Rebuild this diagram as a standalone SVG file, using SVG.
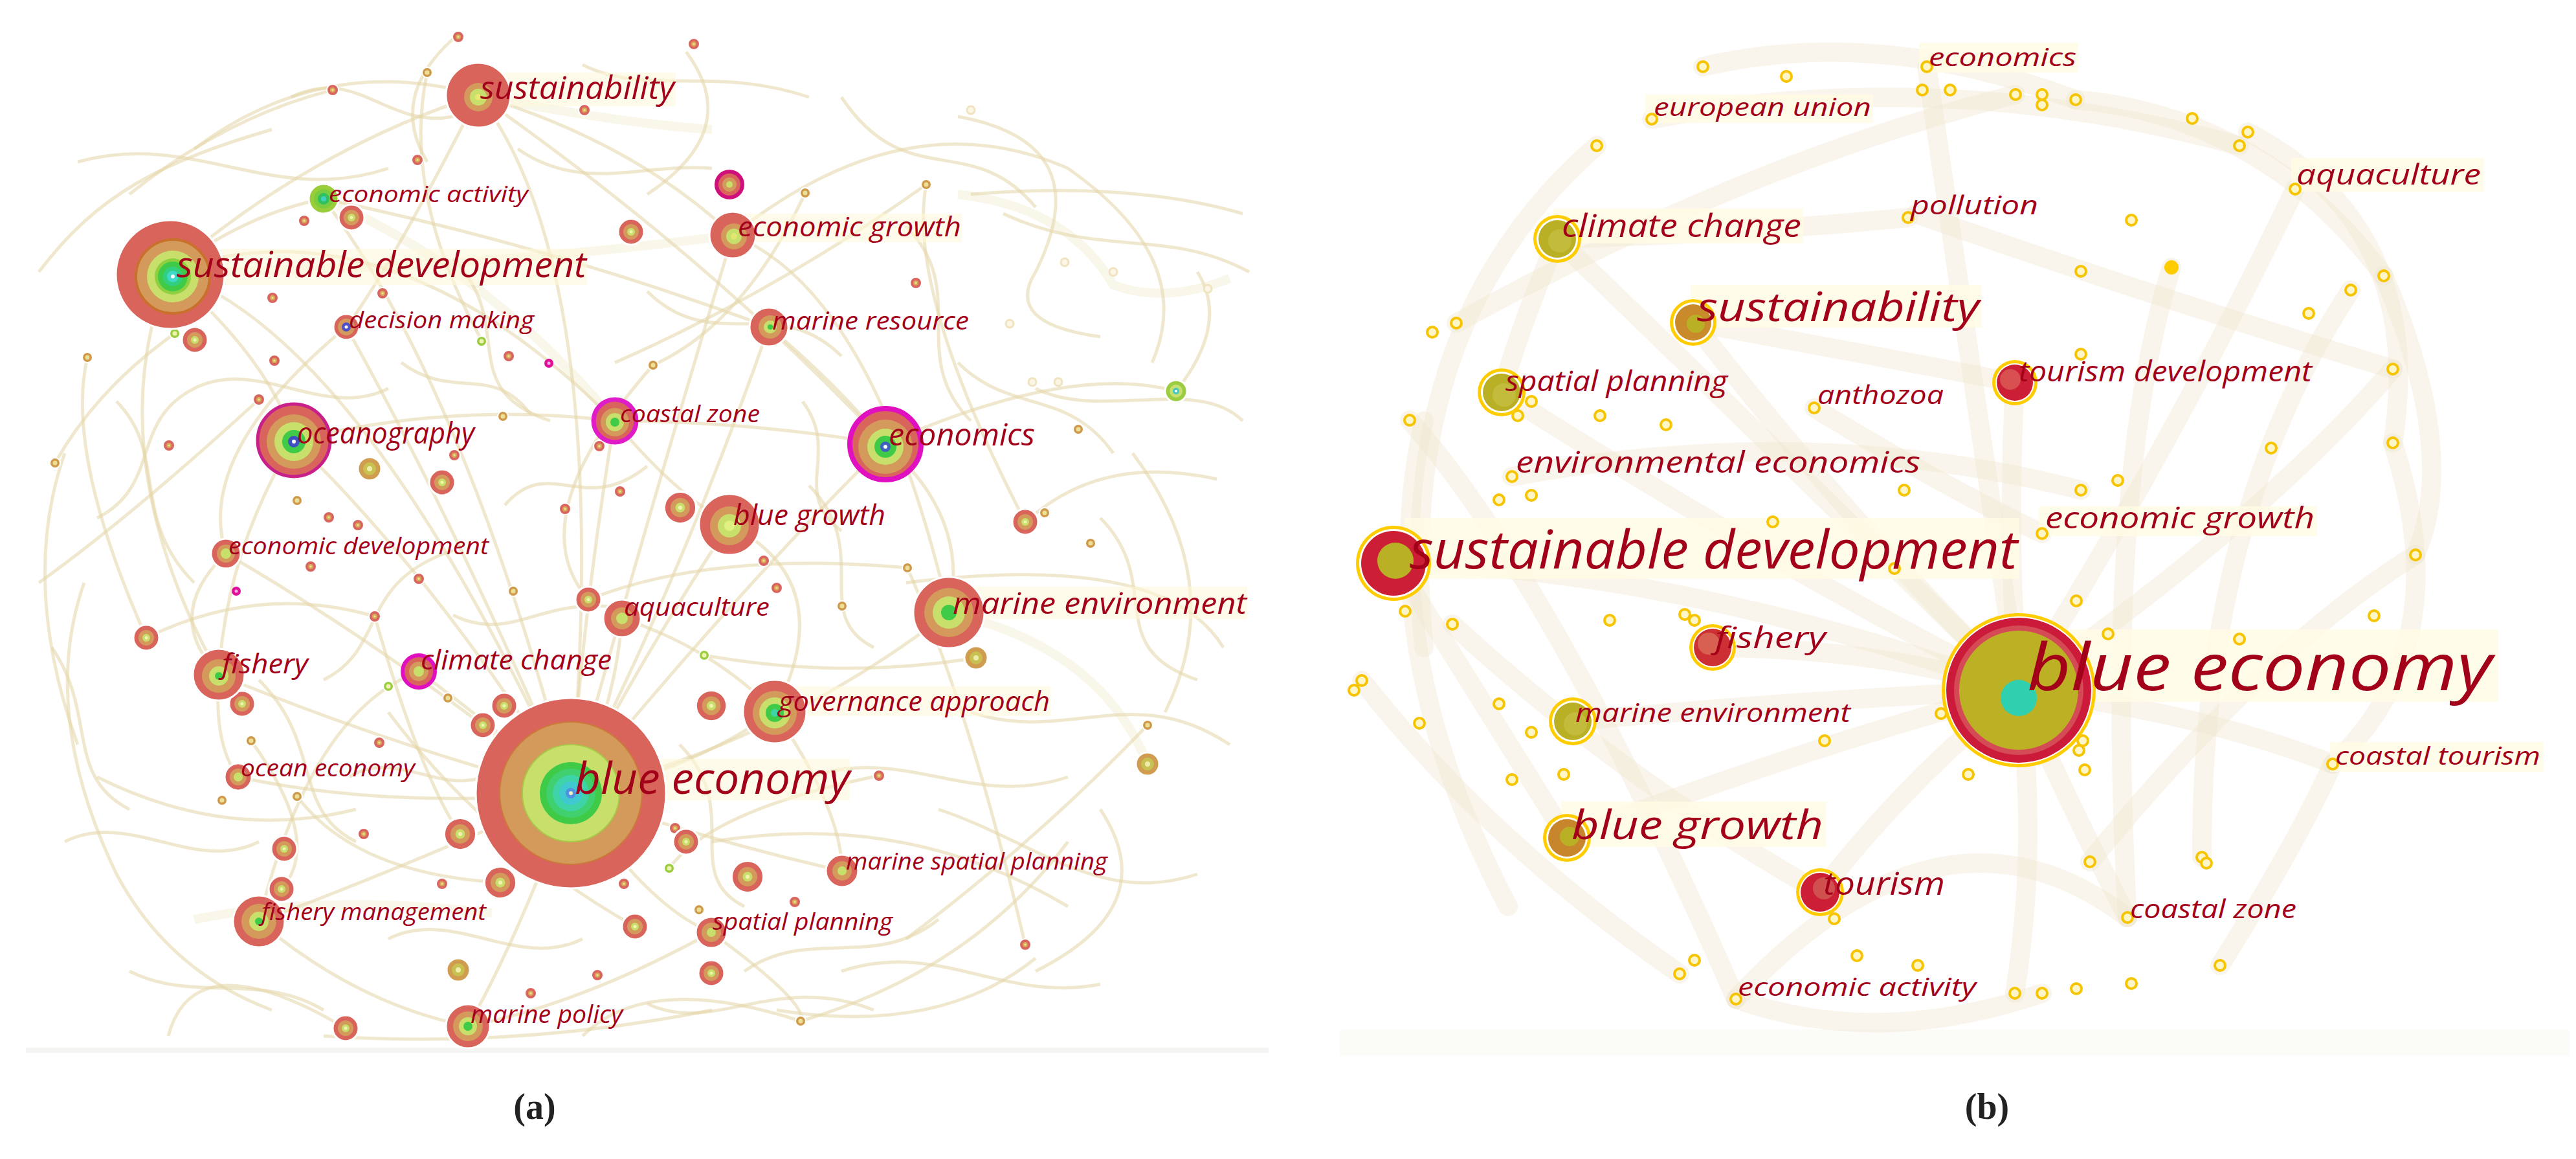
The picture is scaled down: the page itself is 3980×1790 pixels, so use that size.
<svg xmlns="http://www.w3.org/2000/svg" xmlns:xlink="http://www.w3.org/1999/xlink" width="3980" height="1790" viewBox="0 0 3980 1790">
<style>
.ea{fill:none;stroke:#e4d6a6;stroke-width:5;opacity:.55}
.ea2{fill:none;stroke:#ece0b8;stroke-width:14;opacity:.3}
.eb{fill:none;stroke:#efe6cc;stroke-width:30;opacity:.38;stroke-linecap:round}
.lb{fill:#fff8d8;opacity:.55}
.lbb{fill:#fffbe4;opacity:.8}
.t{font-family:"Open Sans","DejaVu Sans",sans-serif;font-style:italic;fill:#a3001a}
.cap{font-family:"Liberation Serif",serif;font-weight:bold;font-size:56px;fill:#222}
.r1{fill:#d9645c;stroke:#fff;stroke-width:3}
.r2{fill:#d39a5c}
.r3{fill:#c9df6c}
.r4{fill:#3fcb48}
.r5{fill:#3fd4a8}
.r6{fill:#49c6e0}
.yr{fill:#ffcc00}
.wh{fill:#fff}
.ol{fill:#b9b025}
.cr{fill:#cc1f35}
</style>
<defs>
<g id="ar"><circle r="9" fill="#d9665e" stroke="#fff" stroke-width="2"/><circle r="4" fill="#d7a85a"/><circle r="1.8" fill="#eee08a"/></g>
<g id="at"><circle r="8" fill="#cf9a4c" stroke="#fff" stroke-width="2"/><circle r="3.5" fill="#ecdf96"/></g>
<g id="ag"><circle r="8" fill="#9ccc40" stroke="#fff" stroke-width="2"/><circle r="3.5" fill="#eef4b0"/></g>
<g id="am"><circle r="7" fill="#e0109a"/><circle r="2.5" fill="#f4b0dc"/></g>
<g id="arm"><circle r="20" fill="#d9645c" stroke="#fff" stroke-width="3"/><circle r="12" fill="#d39a5c"/><circle r="6" fill="#c9df6c"/><circle r="2.5" fill="#f2f2b0"/></g>
<g id="atm"><circle r="18" fill="#cf9c50" stroke="#fff" stroke-width="3"/><circle r="10" fill="#c8c050"/><circle r="4" fill="#eeeeaa"/></g>
<g id="by"><circle r="8" fill="#fff6c8" stroke="#f7c400" stroke-width="4"/></g>
<g id="bd"><circle r="6" fill="#fbf6e6" stroke="#efe3c0" stroke-width="3"/></g>
</defs>
<rect width="3980" height="1790" fill="#fff"/>
<rect x="40" y="1618" width="1920" height="8" fill="#f4f4f2"/>
<rect x="2070" y="1590" width="1900" height="40" fill="#fbfbf8"/>

<g id="connectors">
<g id="edges-a">
<path class="ea2" d="M261,419 Q700,420 1132,363"/>
<path class="ea2" d="M500,307 Q760,420 949,650"/>
<path class="ea2" d="M1466,946 Q1700,1000 1773,1180"/>
<path class="ea2" d="M739,147 Q950,190 1100,200"/>
<path class="ea2" d="M300,1420 Q500,1380 760,1410"/>
<path class="ea2" d="M1480,300 Q1650,320 1720,440 Q1800,470 1900,430"/>
<path class="ea" d="M261,419 Q480,230 739,147"/>
<path class="ea" d="M261,419 Q560,520 882,1225"/>
<path class="ea" d="M261,419 Q420,560 454,680"/>
<path class="ea" d="M261,419 Q380,330 500,307"/>
<path class="ea" d="M261,419 Q150,700 338,1042"/>
<path class="ea" d="M261,419 Q600,300 949,650"/>
<path class="ea" d="M739,147 Q950,420 882,1225"/>
<path class="ea" d="M739,147 Q980,220 1132,363"/>
<path class="ea" d="M739,147 Q600,420 535,505"/>
<path class="ea" d="M739,147 Q1100,400 1368,686"/>
<path class="ea" d="M739,147 Q500,80 300,230"/>
<path class="ea" d="M500,307 Q720,600 882,1225"/>
<path class="ea" d="M500,307 Q850,380 1188,505"/>
<path class="ea" d="M1132,363 Q1000,800 882,1225"/>
<path class="ea" d="M1132,363 Q1350,450 1466,946"/>
<path class="ea" d="M1132,363 Q1400,150 1650,260"/>
<path class="ea" d="M1188,505 Q1050,900 882,1225"/>
<path class="ea" d="M1188,505 Q1300,600 1368,686"/>
<path class="ea" d="M535,505 Q700,800 882,1225"/>
<path class="ea" d="M535,505 Q300,700 349,855"/>
<path class="ea" d="M454,680 Q680,900 882,1225"/>
<path class="ea" d="M454,680 Q700,620 949,650"/>
<path class="ea" d="M454,680 Q350,850 338,1042"/>
<path class="ea" d="M949,650 Q900,950 882,1225"/>
<path class="ea" d="M949,650 Q1150,650 1368,686"/>
<path class="ea" d="M949,650 Q1040,760 1127,810"/>
<path class="ea" d="M1368,686 Q1150,900 882,1225"/>
<path class="ea" d="M1368,686 Q1500,800 1466,946"/>
<path class="ea" d="M1368,686 Q1650,560 1817,604"/>
<path class="ea" d="M1127,810 Q1000,1000 882,1225"/>
<path class="ea" d="M1127,810 Q1300,900 1197,1099"/>
<path class="ea" d="M349,855 Q600,1000 882,1225"/>
<path class="ea" d="M349,855 Q250,950 338,1042"/>
<path class="ea" d="M961,955 Q950,1100 882,1225"/>
<path class="ea" d="M961,955 Q1100,1000 1197,1099"/>
<path class="ea" d="M1466,946 Q1200,1150 882,1225"/>
<path class="ea" d="M338,1042 Q600,1150 882,1225"/>
<path class="ea" d="M338,1042 Q330,1150 368,1200"/>
<path class="ea" d="M647,1037 Q760,1120 882,1225"/>
<path class="ea" d="M647,1037 Q480,1100 400,1423"/>
<path class="ea" d="M1197,1099 Q1050,1200 882,1225"/>
<path class="ea" d="M1197,1099 Q1300,1250 1301,1345"/>
<path class="ea" d="M368,1200 Q600,1250 882,1225"/>
<path class="ea" d="M882,1225 Q1100,1300 1301,1345"/>
<path class="ea" d="M882,1225 Q600,1350 400,1423"/>
<path class="ea" d="M882,1225 Q1000,1400 1099,1440"/>
<path class="ea" d="M882,1225 Q800,1450 723,1585"/>
<path class="ea" d="M400,1423 Q550,1550 723,1585"/>
<path class="ea" d="M1099,1440 Q900,1550 723,1585"/>
<path class="ea" d="M1099,1440 Q1250,1550 1237,1577"/>
<path class="ea" d="M100,700 Q30,900 120,1150"/>
<path class="ea" d="M130,900 Q60,1100 180,1350 Q260,1500 420,1560"/>
<path class="ea" d="M85,715 Q150,600 270,515"/>
<path class="ea" d="M135,552 Q100,700 226,985"/>
<path class="ea" d="M500,1600 Q800,1620 1100,1560"/>
<path class="ea" d="M1237,1577 Q1500,1500 1650,1300"/>
<path class="ea" d="M1400,900 Q1800,850 1890,1000"/>
<path class="ea" d="M1500,300 Q1750,280 1920,330"/>
<path class="ea" d="M1480,180 Q1700,220 1600,420 Q1550,500 1700,520"/>
<path class="ea" d="M1650,260 Q1850,400 1780,560"/>
<path class="ea" d="M1750,700 Q1900,900 1800,1100"/>
<path class="ea" d="M1585,806 Q1700,700 1880,740"/>
<path class="ea" d="M1060,80 Q1150,200 1000,300"/>
<path class="ea" d="M700,60 Q600,150 660,250"/>
<path class="ea" d="M950,560 Q1200,450 1431,285"/>
<path class="ea" d="M1431,285 Q1400,450 1584,806"/>
<path class="ea" d="M1244,298 Q1150,500 1009,564"/>
<path class="ea" d="M1009,564 Q800,800 909,926"/>
<path class="ea" d="M909,926 Q1100,850 1402,877"/>
<path class="ea" d="M1402,877 Q1500,1100 1584,1459"/>
<path class="ea" d="M226,985 Q400,900 579,952"/>
<path class="ea" d="M579,952 Q650,1200 711,1288"/>
<path class="ea" d="M388,1144 Q500,1300 435,1373"/>
<path class="ea" d="M459,1230 Q550,1350 773,1363"/>
<path class="ea" d="M1034,1341 Q1100,1250 1358,1198"/>
<path class="ea" d="M1773,1120 Q1600,1300 1400,1450"/>
<path class="ea" d="M260,1600 Q300,1450 534,1588"/>
<path class="ea" d="M900,1600 Q1000,1500 1237,1577"/>
<path class="ea" d="M600,1100 Q750,1300 981,1431"/>
<path class="ea" d="M1088,1012 Q1300,1050 1508,1016"/>
<path class="ea" d="M1600,1500 Q1800,1400 1700,1250"/>
<path class="ea" d="M200,300 Q350,180 514,139"/>
<path class="ea" d="M660,112 Q620,300 745,527"/>
<path class="ea" d="M60,900 Q200,800 400,617"/>
<path class="ea" d="M1817,604 Q1900,500 1850,420"/>
<path class="ea" d="M1100,1300 Q1400,1250 1650,1400"/>
<path class="ea" d="M150,1200 Q350,1300 550,1250"/>
<path class="ea" d="M1200,1560 Q1450,1600 1600,1480"/>
<path class="ea" d="M60,420 C150,300 250,250 420,200"/>
<path class="ea" d="M120,250 C300,200 420,320 600,260"/>
<path class="ea" d="M800,230 C900,300 1000,250 1100,260"/>
<path class="ea" d="M1300,150 C1400,300 1500,200 1600,320"/>
<path class="ea" d="M1550,330 C1700,400 1800,350 1930,420"/>
<path class="ea" d="M1600,600 C1700,650 1850,580 1920,650"/>
<path class="ea" d="M1500,1100 C1650,1150 1750,1050 1900,1150"/>
<path class="ea" d="M1450,1250 C1600,1300 1700,1400 1850,1350"/>
<path class="ea" d="M1300,1500 C1450,1450 1550,1550 1700,1520"/>
<path class="ea" d="M100,1300 C200,1250 300,1350 400,1300"/>
<path class="ea" d="M80,1000 C150,1100 100,1200 200,1250"/>
<path class="ea" d="M200,1500 C300,1550 400,1500 500,1560"/>
<path class="ea" d="M600,1450 C700,1400 800,1500 900,1450"/>
<path class="ea" d="M300,600 C400,550 500,650 600,600"/>
<path class="ea" d="M700,400 C800,500 700,600 850,650"/>
<path class="ea" d="M1000,450 C1100,550 1200,450 1300,550"/>
<path class="ea" d="M1250,750 C1350,850 1250,950 1350,1000"/>
<path class="ea" d="M1050,1150 C1150,1250 1050,1350 1150,1400"/>
<path class="ea" d="M500,1050 C600,1000 550,900 700,850"/>
<path class="ea" d="M150,800 C250,750 200,650 300,600"/>
<path class="ea" d="M400,1050 C500,1150 450,1250 550,1300"/>
<path class="ea" d="M1400,350 C1500,450 1400,550 1500,650"/>
<path class="ea" d="M1700,800 C1800,900 1700,1000 1850,1050"/>
<path class="ea" d="M1000,1550 C1100,1600 1200,1500 1350,1560"/>
<path class="ea" d="M450,150 C550,100 600,200 700,180"/>
<path class="ea" d="M900,100 C1000,150 1100,100 1250,150"/>
<path class="ea" d="M1250,1200 C1400,1150 1500,1250 1650,1200"/>
<path class="ea" d="M700,950 C800,1000 850,900 1000,950"/>
<path class="ea" d="M180,620 C260,700 200,800 300,900"/>
<path class="ea" d="M780,780 C850,700 900,800 1000,720"/>
<path class="ea" d="M620,560 C700,620 760,560 820,640"/>
<path class="ea" d="M1480,560 C1560,640 1650,600 1720,700"/>
<path class="ea" d="M1240,620 C1300,700 1220,760 1300,820"/>
<path class="ea" d="M540,1200 C620,1150 700,1250 780,1180"/>
<path class="ea" d="M1150,1500 C1250,1430 1350,1500 1450,1420"/>
</g>
<g id="edges-b">
<path class="eb" d="M2467,225 Q2150,500 2200,1000"/>
<path class="eb" d="M2200,650 Q2120,1000 2330,1400"/>
<path class="eb" d="M2155,868 Q2600,880 3119,1066"/>
<path class="eb" d="M2616,498 Q2850,800 3119,1066"/>
<path class="eb" d="M2406,369 Q2750,700 3119,1066"/>
<path class="eb" d="M2320,606 Q2700,850 3119,1066"/>
<path class="eb" d="M3113,591 Q3100,850 3119,1066"/>
<path class="eb" d="M2646,1000 Q2900,1000 3119,1066"/>
<path class="eb" d="M2430,1114 Q2800,1080 3119,1066"/>
<path class="eb" d="M2421,1294 Q2800,1150 3119,1066"/>
<path class="eb" d="M2812,1378 Q2950,1200 3119,1066"/>
<path class="eb" d="M3287,1417 Q3200,1250 3119,1066"/>
<path class="eb" d="M3604,1180 Q3400,1100 3119,1066"/>
<path class="eb" d="M3119,1066 Q3150,1300 3113,1534"/>
<path class="eb" d="M3119,1066 Q3350,700 3546,292"/>
<path class="eb" d="M3119,1066 Q3500,800 3697,570"/>
<path class="eb" d="M2977,103 Q3050,600 3119,1066"/>
<path class="eb" d="M2552,184 Q3000,100 3460,225"/>
<path class="eb" d="M2631,103 Q2900,40 3207,154"/>
<path class="eb" d="M3207,154 Q3500,180 3683,426"/>
<path class="eb" d="M3473,204 Q3750,350 3697,684"/>
<path class="eb" d="M3683,426 Q3800,700 3732,857"/>
<path class="eb" d="M2178,649 Q2400,900 2682,1543"/>
<path class="eb" d="M2682,1543 Q2900,1620 3155,1534"/>
<path class="eb" d="M2682,1543 Q3000,1200 3287,1417"/>
<path class="eb" d="M3430,1491 Q3550,1300 3604,1180"/>
<path class="eb" d="M2336,736 Q2800,650 3215,757"/>
<path class="eb" d="M2413,369 Q2700,360 2948,336"/>
<path class="eb" d="M2616,498 Q2900,550 3113,591"/>
<path class="eb" d="M3697,684 Q3800,1000 3604,1180"/>
<path class="eb" d="M2104,1051 Q2300,1300 2595,1504"/>
<path class="eb" d="M2244,964 Q2500,1200 2812,1378"/>
<path class="eb" d="M2803,630 Q3000,750 3155,824"/>
<path class="eb" d="M3355,413 Q3250,750 3287,1417"/>
<path class="eb" d="M3632,448 Q3400,800 3402,1324"/>
<path class="eb" d="M2960,330 Q3300,450 3697,570"/>
<path class="eb" d="M2406,369 Q2350,500 2320,606"/>
<path class="eb" d="M2155,868 Q2300,1100 2421,1294"/>
<path class="eb" d="M2250,499 Q2700,250 3114,146"/>
<path class="eb" d="M3229,1331 Q3500,1000 3732,857"/>
</g>
</g>

<g id="label-bg">
<rect class="lb" x="742" y="112" width="302" height="52"/>
<rect class="lb" x="273" y="384" width="634" height="56"/>
<rect class="lb" x="1140" y="330" width="346" height="44"/>
<rect class="lb" x="1472" y="906" width="455" height="50"/>
<rect class="lb" x="888" y="1172" width="425" height="64"/>
<rect class="lb" x="1203" y="1060" width="420" height="46"/>
<rect class="lbb" x="2542" y="146" width="352" height="44"/>
<rect class="lbb" x="2965" y="66" width="246" height="46"/>
<rect class="lbb" x="3540" y="244" width="298" height="52"/>
<rect class="lbb" x="2400" y="322" width="386" height="54"/>
<rect class="lbb" x="2612" y="440" width="450" height="66"/>
<rect class="lbb" x="2170" y="800" width="950" height="94"/>
<rect class="lbb" x="3100" y="972" width="760" height="112"/>
<rect class="lbb" x="2412" y="1238" width="410" height="70"/>
<rect class="lbb" x="3600" y="1146" width="330" height="46"/>
<rect class="lbb" x="3150" y="782" width="430" height="46"/>
</g>

<g id="nodes-a-small">
<use id="a1" href="#ar" x="708" y="57"/>
<use id="a2" href="#ar" x="1072" y="68"/>
<use id="a3" href="#at" x="660" y="112"/>
<use id="a4" href="#ar" x="514" y="139"/>
<use id="a5" href="#ar" x="903" y="170"/>
<use id="a6" href="#ar" x="645" y="247"/>
<use id="a7" href="#at" x="1244" y="298"/>
<use id="a8" href="#at" x="1431" y="285"/>
<use id="a9" href="#arm" x="543" y="336"/>
<use id="a10" href="#ar" x="470" y="341"/>
<use id="a11" href="#arm" x="975" y="358"/>
<use id="a12" href="#ar" x="1415" y="437"/>
<use id="a13" href="#ar" x="421" y="460"/>
<use id="a14" href="#ar" x="591" y="453"/>
<use id="a15" href="#arm" x="301" y="525"/>
<use id="a16" href="#ag" x="270" y="515"/>
<use id="a17" href="#at" x="135" y="552"/>
<use id="a18" href="#ar" x="424" y="557"/>
<use id="a19" href="#ag" x="744" y="527"/>
<use id="a20" href="#ar" x="786" y="550"/>
<use id="a21" href="#am" x="848" y="561"/>
<use id="a22" href="#at" x="1009" y="564"/>
<use id="a24" href="#ar" x="400" y="617"/>
<use id="a25" href="#at" x="777" y="643"/>
<use id="a26" href="#ar" x="261" y="688"/>
<use id="a27" href="#at" x="85" y="715"/>
<use id="a28" href="#ar" x="702" y="703"/>
<use id="a29" href="#atm" x="571" y="724"/>
<use id="a30" href="#arm" x="683" y="745"/>
<use id="a31" href="#ar" x="926" y="689"/>
<use id="a32" href="#at" x="1666" y="663"/>
<use id="a33" href="#ar" x="958" y="759"/>
<use id="a34" href="#at" x="459" y="773"/>
<use id="a35" href="#ar" x="873" y="786"/>
<use id="a36" href="#arm" transform="translate(1051,784) scale(1.25)"/>
<use id="a37" href="#arm" x="1584" y="806"/>
<use id="a38" href="#at" x="1614" y="792"/>
<use id="a39" href="#ar" x="508" y="799"/>
<use id="a40" href="#ar" x="553" y="811"/>
<use id="a41" href="#ar" x="1180" y="866"/>
<use id="a42" href="#at" x="1685" y="839"/>
<use id="a43" href="#at" x="1402" y="877"/>
<use id="a44" href="#ar" x="480" y="875"/>
<use id="a45" href="#am" x="365" y="913"/>
<use id="a46" href="#ar" x="647" y="894"/>
<use id="a47" href="#at" x="793" y="913"/>
<use id="a48" href="#arm" x="909" y="926"/>
<use id="a49" href="#ar" x="1200" y="908"/>
<use id="a50" href="#ar" x="579" y="952"/>
<use id="a51" href="#arm" x="226" y="985"/>
<use id="a52" href="#at" x="1301" y="936"/>
<use id="a53" href="#ag" x="1088" y="1012"/>
<use id="a54" href="#atm" x="1508" y="1016"/>
<use id="a55" href="#arm" x="374" y="1087"/>
<use id="a56" href="#ag" x="600" y="1060"/>
<use id="a57" href="#at" x="692" y="1078"/>
<use id="a58" href="#arm" x="779" y="1090"/>
<use id="a59" href="#arm" x="746" y="1120"/>
<use id="a60" href="#arm" transform="translate(1099,1090) scale(1.2)"/>
<use id="a61" href="#at" x="388" y="1144"/>
<use id="a62" href="#ar" x="586" y="1147"/>
<use id="a63" href="#at" x="1773" y="1120"/>
<use id="a64" href="#atm" x="1773" y="1180"/>
<use id="a65" href="#ar" x="1358" y="1198"/>
<use id="a66" href="#at" x="343" y="1236"/>
<use id="a67" href="#at" x="459" y="1230"/>
<use id="a68" href="#ar" x="562" y="1288"/>
<use id="a69" href="#arm" transform="translate(711,1288) scale(1.25)"/>
<use id="a70" href="#ar" x="1043" y="1279"/>
<use id="a71" href="#arm" x="1060" y="1300"/>
<use id="a72" href="#arm" x="439" y="1311"/>
<use id="a73" href="#arm" x="435" y="1373"/>
<use id="a74" href="#ar" x="683" y="1365"/>
<use id="a75" href="#arm" transform="translate(773,1363) scale(1.25)"/>
<use id="a76" href="#ar" x="964" y="1365"/>
<use id="a77" href="#ag" x="1034" y="1341"/>
<use id="a78" href="#arm" transform="translate(1155,1354) scale(1.25)"/>
<use id="a79" href="#ar" x="1228" y="1393"/>
<use id="a80" href="#at" x="1080" y="1405"/>
<use id="a81" href="#arm" x="981" y="1431"/>
<use id="a82" href="#ar" x="1584" y="1459"/>
<use id="a83" href="#atm" x="708" y="1498"/>
<use id="a84" href="#arm" x="1099" y="1503"/>
<use id="a85" href="#ar" x="923" y="1506"/>
<use id="a86" href="#ar" x="820" y="1534"/>
<use id="a87" href="#arm" x="534" y="1588"/>
<use id="a88" href="#at" x="1237" y="1577"/>
<g id="a89"><circle cx="1817" cy="604" r="17" fill="#9ccc40" stroke="#fff" stroke-width="3"/><circle cx="1817" cy="604" r="10" fill="#c8e070"/><circle cx="1817" cy="604" r="5" fill="#40c8c0"/><circle cx="1817" cy="604" r="2" fill="#fff"/></g>
<g id="a90"><circle cx="1127" cy="285" r="20" fill="#d9645c" stroke="#d0107a" stroke-width="6"/><circle cx="1127" cy="285" r="11" fill="#d39a5c"/><circle cx="1127" cy="285" r="5" fill="#c9df6c"/></g>
<circle id="a92" cx="759" cy="1192" r="6" fill="#f4e4e0" stroke="#e0b0a8" stroke-width="2"/>
<use id="a93" href="#bd" x="1500" y="170"/>
<use id="a94" href="#bd" x="1645" y="405"/>
<use id="a95" href="#bd" x="1720" y="420"/>
<use id="a96" href="#bd" x="1866" y="446"/>
<use id="a97" href="#bd" x="1560" y="500"/>
<use id="a98" href="#bd" x="1595" y="590"/>
<use id="a99" href="#bd" x="1635" y="590"/>
</g>

<g id="node-a-sustainability">
<circle class="r1" cx="739" cy="147" r="50"/><circle class="r2" cx="739" cy="150" r="22"/><circle class="r3" cx="739" cy="150" r="13"/><circle cx="739" cy="150" r="5" fill="#e8e870"/>
<text class="t" x="742" y="153" font-size="50" textLength="300" lengthAdjust="spacingAndGlyphs">sustainability</text>
</g>
<g id="node-a-economic-activity">
<circle cx="500" cy="307" r="23" fill="#9acd3a" stroke="#fff" stroke-width="3"/><circle cx="500" cy="307" r="15" fill="#7ccc40"/><circle cx="500" cy="307" r="9" fill="#30c060"/><circle cx="500" cy="307" r="4" fill="#40d0c0"/>
<text class="t" x="508" y="312" font-size="35" textLength="308" lengthAdjust="spacingAndGlyphs">economic activity</text>
</g>
<g id="node-a-economic-growth">
<circle class="r1" cx="1132" cy="363" r="36"/><circle class="r2" cx="1134" cy="365" r="20"/><circle class="r3" cx="1134" cy="365" r="12"/><circle cx="1134" cy="365" r="5" fill="#e0e870"/>
<text class="t" x="1140" y="365" font-size="42" textLength="345" lengthAdjust="spacingAndGlyphs">economic growth</text>
</g>
<g id="node-a-sustainable-development">
<circle class="r1" cx="263" cy="424" r="84"/><circle class="r2" cx="267" cy="427" r="57" stroke="#c9702c" stroke-width="4"/><circle class="r3" cx="267" cy="427" r="40"/><circle cx="267" cy="427" r="28" fill="#8fd040"/><circle class="r4" cx="267" cy="427" r="23"/><circle cx="267" cy="427" r="15" fill="#30d080"/><circle cx="267" cy="427" r="9" fill="#40d8c8"/><circle cx="267" cy="427" r="3" fill="#fff"/>
<text class="t" x="273" y="428" font-size="55" textLength="633" lengthAdjust="spacingAndGlyphs">sustainable development</text>
</g>
<g id="node-a-decision-making">
<circle class="r1" cx="535" cy="505" r="20"/><circle class="r2" cx="535" cy="505" r="13"/><circle cx="535" cy="505" r="7" fill="#5050c8"/><circle cx="535" cy="505" r="2.5" fill="#fff"/>
<text class="t" x="539" y="507" font-size="36" textLength="286" lengthAdjust="spacingAndGlyphs">decision making</text>
</g>
<g id="node-a-marine-resource">
<circle class="r1" cx="1188" cy="505" r="30"/><circle class="r2" cx="1190" cy="505" r="18"/><circle class="r3" cx="1190" cy="505" r="10"/><circle class="r4" cx="1190" cy="505" r="4"/>
<text class="t" x="1193" y="509" font-size="39" textLength="304" lengthAdjust="spacingAndGlyphs">marine resource</text>
</g>
<g id="node-a-oceanography">
<circle cx="454" cy="680" r="56" fill="#d9645c" stroke="#c8208a" stroke-width="5"/><circle class="r2" cx="454" cy="682" r="42"/><circle class="r3" cx="454" cy="682" r="30"/><circle class="r4" cx="454" cy="682" r="18"/><circle cx="454" cy="682" r="9" fill="#4050c0"/><circle cx="454" cy="682" r="3" fill="#fff"/>
<text class="t" x="459" y="685" font-size="46" textLength="274" lengthAdjust="spacingAndGlyphs">oceanography</text>
</g>
<g id="node-a-coastal-zone">
<circle cx="950" cy="650" r="33" fill="#d9645c" stroke="#e01cc8" stroke-width="7"/><circle class="r2" cx="950" cy="652" r="22"/><circle class="r3" cx="950" cy="652" r="14"/><circle class="r4" cx="950" cy="652" r="7"/>
<text class="t" x="958" y="652" font-size="37" textLength="216" lengthAdjust="spacingAndGlyphs">coastal zone</text>
</g>
<g id="node-a-economics">
<circle cx="1368" cy="686" r="55" fill="#d9645c" stroke="#e010c0" stroke-width="8"/><circle class="r2" cx="1368" cy="690" r="42"/><circle class="r3" cx="1368" cy="690" r="28"/><circle class="r4" cx="1368" cy="690" r="17"/><circle cx="1368" cy="690" r="8" fill="#4060c0"/><circle cx="1368" cy="690" r="3" fill="#fff"/>
<text class="t" x="1373" y="688" font-size="48" textLength="226" lengthAdjust="spacingAndGlyphs">economics</text>
</g>
<g id="node-a-blue-growth">
<circle class="r1" cx="1127" cy="810" r="47"/><circle class="r2" cx="1127" cy="812" r="30"/><circle class="r3" cx="1127" cy="812" r="18"/><circle cx="1127" cy="812" r="8" fill="#e0f080"/>
<text class="t" x="1133" y="811" font-size="44" textLength="235" lengthAdjust="spacingAndGlyphs">blue growth</text>
</g>
<g id="node-a-economic-development">
<circle class="r1" cx="349" cy="855" r="23"/><circle class="r2" cx="349" cy="855" r="14"/><circle class="r3" cx="349" cy="855" r="8"/>
<text class="t" x="353" y="856" font-size="36" textLength="402" lengthAdjust="spacingAndGlyphs">economic development</text>
</g>
<g id="node-a-aquaculture">
<circle class="r1" cx="961" cy="955" r="29"/><circle class="r2" cx="961" cy="955" r="17"/><circle class="r3" cx="961" cy="955" r="9"/>
<text class="t" x="964" y="951" font-size="39" textLength="225" lengthAdjust="spacingAndGlyphs">aquaculture</text>
</g>
<g id="node-a-marine-environment">
<circle class="r1" cx="1466" cy="946" r="55"/><circle class="r2" cx="1466" cy="946" r="38"/><circle class="r3" cx="1466" cy="946" r="25"/><circle class="r4" cx="1466" cy="946" r="12"/>
<text class="t" x="1472" y="948" font-size="46" textLength="454" lengthAdjust="spacingAndGlyphs">marine environment</text>
</g>
<g id="node-a-fishery">
<circle class="r1" cx="338" cy="1042" r="40"/><circle class="r2" cx="338" cy="1044" r="26"/><circle class="r3" cx="338" cy="1044" r="15"/><circle class="r4" cx="338" cy="1044" r="6"/>
<text class="t" x="343" y="1040" font-size="42" textLength="133" lengthAdjust="spacingAndGlyphs">fishery</text>
</g>
<g id="node-a-climate-change">
<circle cx="647" cy="1037" r="25" fill="#d9645c" stroke="#e010c0" stroke-width="6"/><circle class="r2" cx="647" cy="1037" r="15"/><circle class="r3" cx="647" cy="1037" r="8"/>
<text class="t" x="650" y="1034" font-size="42" textLength="295" lengthAdjust="spacingAndGlyphs">climate change</text>
</g>
<g id="node-a-governance-approach">
<circle class="r1" cx="1197" cy="1099" r="49"/><circle class="r2" cx="1197" cy="1101" r="34"/><circle class="r3" cx="1197" cy="1101" r="24"/><circle class="r4" cx="1197" cy="1101" r="14"/><circle class="r5" cx="1197" cy="1101" r="6"/>
<text class="t" x="1203" y="1098" font-size="42" textLength="419" lengthAdjust="spacingAndGlyphs">governance approach</text>
</g>
<g id="node-a-blue-economy">
<circle class="r1" cx="882" cy="1225" r="147"/><circle class="r2" cx="882" cy="1225" r="110" stroke="#cc7a3a" stroke-width="2"/><circle class="r3" cx="882" cy="1225" r="75" stroke="#a8c848" stroke-width="2"/><circle class="r4" cx="882" cy="1225" r="48"/><circle cx="882" cy="1225" r="38" fill="#40d070"/><circle class="r5" cx="882" cy="1225" r="28"/><circle cx="882" cy="1225" r="18" fill="#40c8d0"/><circle cx="882" cy="1225" r="8" fill="#5090e0"/><circle cx="882" cy="1225" r="3" fill="#f0f0c0"/>
<text class="t" x="888" y="1226" font-size="68" textLength="425" lengthAdjust="spacingAndGlyphs">blue economy</text>
</g>
<g id="node-a-ocean-economy">
<circle class="r1" cx="368" cy="1200" r="21"/><circle class="r2" cx="368" cy="1200" r="13"/><circle class="r3" cx="368" cy="1200" r="7"/>
<text class="t" x="372" y="1199" font-size="36" textLength="269" lengthAdjust="spacingAndGlyphs">ocean economy</text>
</g>
<g id="node-a-marine-spatial-planning">
<circle class="r1" cx="1301" cy="1345" r="25"/><circle class="r2" cx="1301" cy="1345" r="15"/><circle class="r3" cx="1301" cy="1345" r="7"/>
<text class="t" x="1307" y="1343" font-size="36" textLength="404" lengthAdjust="spacingAndGlyphs">marine spatial planning</text>
</g>
<g id="node-a-fishery-management">
<circle class="r1" cx="400" cy="1423" r="40"/><circle class="r2" cx="400" cy="1423" r="27"/><circle class="r3" cx="400" cy="1423" r="15"/><circle class="r4" cx="400" cy="1423" r="6"/>
<text class="t" x="404" y="1421" font-size="36" textLength="347" lengthAdjust="spacingAndGlyphs">fishery management</text>
</g>
<g id="node-a-spatial-planning">
<circle class="r1" cx="1099" cy="1440" r="24"/><circle class="r2" cx="1099" cy="1440" r="15"/><circle class="r3" cx="1099" cy="1440" r="7"/>
<text class="t" x="1101" y="1436" font-size="36" textLength="278" lengthAdjust="spacingAndGlyphs">spatial planning</text>
</g>
<g id="node-a-marine-policy">
<circle class="r1" cx="723" cy="1585" r="34"/><circle class="r2" cx="723" cy="1585" r="23"/><circle class="r3" cx="723" cy="1585" r="14"/><circle class="r4" cx="723" cy="1585" r="7"/>
<text class="t" x="727" y="1580" font-size="38" textLength="235" lengthAdjust="spacingAndGlyphs">marine policy</text>
</g>

<g id="nodes-b-small">
<use id="b1" href="#by" x="2631" y="103"/>
<use id="b2" href="#by" x="2760" y="118"/>
<use id="b3" href="#by" x="2970" y="139"/>
<use id="b4" href="#by" x="3013" y="139"/>
<use id="b5" href="#by" x="3114" y="146"/>
<use id="b6" href="#by" x="3155" y="146"/>
<use id="b7" href="#by" x="3155" y="162"/>
<use id="b8" href="#by" x="3207" y="154"/>
<use id="b9" href="#by" x="3387" y="183"/>
<use id="b10" href="#by" x="3473" y="204"/>
<use id="b11" href="#by" x="3460" y="225"/>
<use id="b12" href="#by" x="2467" y="225"/>
<use id="b13" href="#by" x="3293" y="340"/>
<use id="b14" href="#by" x="3215" y="419"/>
<circle id="b15" cx="3355" cy="413" r="11" fill="#ffcc00"/>
<use id="b16" href="#by" x="3683" y="426"/>
<use id="b17" href="#by" x="3632" y="448"/>
<use id="b18" href="#by" x="3567" y="484"/>
<use id="b19" href="#by" x="2213" y="513"/>
<use id="b20" href="#by" x="2250" y="499"/>
<use id="b21" href="#by" x="3215" y="547"/>
<use id="b22" href="#by" x="3697" y="570"/>
<use id="b23" href="#by" x="2366" y="620"/>
<use id="b24" href="#by" x="2345" y="642"/>
<use id="b25" href="#by" x="2472" y="642"/>
<use id="b26" href="#by" x="2574" y="656"/>
<use id="b27" href="#by" x="2178" y="649"/>
<use id="b28" href="#by" x="3509" y="692"/>
<use id="b29" href="#by" x="3697" y="684"/>
<use id="b30" href="#by" x="3215" y="757"/>
<use id="b31" href="#by" x="3272" y="742"/>
<use id="b32" href="#by" x="2942" y="757"/>
<use id="b33" href="#by" x="2316" y="772"/>
<use id="b34" href="#by" x="2366" y="765"/>
<use id="b35" href="#by" x="2739" y="806"/>
<use id="b36" href="#by" x="3732" y="857"/>
<use id="b37" href="#by" x="2927" y="878"/>
<use id="b38" href="#by" x="2171" y="944"/>
<use id="b39" href="#by" x="2244" y="964"/>
<use id="b40" href="#by" x="2487" y="958"/>
<use id="b41" href="#by" x="2603" y="949"/>
<use id="b42" href="#by" x="2618" y="958"/>
<use id="b43" href="#by" x="3208" y="928"/>
<use id="b44" href="#by" x="3257" y="979"/>
<use id="b45" href="#by" x="3460" y="987"/>
<use id="b46" href="#by" x="3668" y="951"/>
<use id="b47" href="#by" x="2104" y="1051"/>
<use id="b48" href="#by" x="2092" y="1066"/>
<use id="b49" href="#by" x="2316" y="1087"/>
<use id="b50" href="#by" x="2193" y="1117"/>
<use id="b51" href="#by" x="2366" y="1131"/>
<use id="b52" href="#by" x="2819" y="1144"/>
<use id="b53" href="#by" x="2999" y="1102"/>
<use id="b54" href="#by" x="3218" y="1144"/>
<use id="b55" href="#by" x="3212" y="1159"/>
<use id="b56" href="#by" x="3221" y="1189"/>
<use id="b57" href="#by" x="3041" y="1196"/>
<use id="b58" href="#by" x="2336" y="1204"/>
<use id="b59" href="#by" x="2416" y="1196"/>
<use id="b60" href="#by" x="3229" y="1331"/>
<use id="b61" href="#by" x="3402" y="1324"/>
<use id="b62" href="#by" x="3409" y="1333"/>
<use id="b63" href="#by" x="2834" y="1419"/>
<use id="b64" href="#by" x="2618" y="1483"/>
<use id="b65" href="#by" x="2595" y="1504"/>
<use id="b66" href="#by" x="2869" y="1476"/>
<use id="b67" href="#by" x="2963" y="1491"/>
<use id="b68" href="#by" x="3430" y="1491"/>
<use id="b69" href="#by" x="3113" y="1534"/>
<use id="b70" href="#by" x="3155" y="1534"/>
<use id="b71" href="#by" x="3208" y="1527"/>
<use id="b72" href="#by" x="3293" y="1519"/>
</g>

<g id="node-b-economics"><use href="#by" x="2977" y="103"/>
<text class="t" x="2980" y="102" font-size="38" textLength="228" lengthAdjust="spacingAndGlyphs">economics</text></g>
<g id="node-b-european-union"><use href="#by" x="2552" y="184"/>
<text class="t" x="2555" y="179" font-size="38" textLength="336" lengthAdjust="spacingAndGlyphs">european union</text></g>
<g id="node-b-aquaculture"><use href="#by" x="3546" y="292"/>
<text class="t" x="3548" y="285" font-size="44" textLength="285" lengthAdjust="spacingAndGlyphs">aquaculture</text></g>
<g id="node-b-pollution"><use href="#by" x="2948" y="336"/>
<text class="t" x="2952" y="331" font-size="41" textLength="197" lengthAdjust="spacingAndGlyphs">pollution</text></g>
<g id="node-b-climate-change">
<circle class="yr" cx="2406" cy="369" r="37"/><circle class="wh" cx="2406" cy="369" r="32"/><circle class="ol" cx="2406" cy="369" r="29"/><circle cx="2410" cy="372" r="18" fill="#c2bb3c"/>
<text class="t" x="2413" y="366" font-size="49" textLength="370" lengthAdjust="spacingAndGlyphs">climate change</text></g>
<g id="node-b-sustainability">
<circle class="yr" cx="2616" cy="498" r="36"/><circle class="wh" cx="2616" cy="498" r="31"/><circle cx="2616" cy="498" r="28" fill="#c98a2c"/><circle class="ol" cx="2620" cy="500" r="14"/>
<text class="t" x="2622" y="496" font-size="62" textLength="436" lengthAdjust="spacingAndGlyphs">sustainability</text></g>
<g id="node-b-spatial-planning">
<circle class="yr" cx="2320" cy="606" r="37"/><circle class="wh" cx="2320" cy="606" r="32"/><circle class="ol" cx="2320" cy="606" r="29"/><circle cx="2324" cy="610" r="18" fill="#c2bb3c"/>
<text class="t" x="2326" y="604" font-size="43" textLength="343" lengthAdjust="spacingAndGlyphs">spatial planning</text></g>
<g id="node-b-anthozoa"><use href="#by" x="2803" y="630"/>
<text class="t" x="2808" y="624" font-size="40" textLength="195" lengthAdjust="spacingAndGlyphs">anthozoa</text></g>
<g id="node-b-tourism-development">
<circle class="yr" cx="3113" cy="591" r="35"/><circle class="wh" cx="3113" cy="591" r="30"/><circle class="cr" cx="3113" cy="591" r="28"/><circle cx="3106" cy="586" r="16" fill="#d85050"/>
<text class="t" x="3119" y="589" font-size="43" textLength="453" lengthAdjust="spacingAndGlyphs">tourism development</text></g>
<g id="node-b-environmental-economics"><use href="#by" x="2336" y="736"/>
<text class="t" x="2342" y="730" font-size="46" textLength="625" lengthAdjust="spacingAndGlyphs">environmental economics</text></g>
<g id="node-b-economic-growth"><use href="#by" x="3155" y="824"/>
<text class="t" x="3160" y="816" font-size="46" textLength="416" lengthAdjust="spacingAndGlyphs">economic growth</text></g>
<g id="node-b-sustainable-development">
<circle class="yr" cx="2153" cy="870" r="58"/><circle class="wh" cx="2153" cy="870" r="53"/><circle class="cr" cx="2153" cy="870" r="50"/><circle class="ol" cx="2156" cy="866" r="28"/>
<text class="t" x="2178" y="878" font-size="82" textLength="939" lengthAdjust="spacingAndGlyphs">sustainable development</text></g>
<g id="node-b-fishery">
<circle class="yr" cx="2646" cy="1000" r="36"/><circle class="wh" cx="2646" cy="1000" r="31"/><circle cx="2646" cy="1000" r="29" fill="#cc3035"/><circle cx="2640" cy="994" r="17" fill="#d86050"/>
<text class="t" x="2650" y="1001" font-size="46" textLength="171" lengthAdjust="spacingAndGlyphs">fishery</text></g>
<g id="node-b-blue-economy">
<circle class="yr" cx="3119" cy="1066" r="119"/><circle class="wh" cx="3119" cy="1066" r="114"/><circle cx="3119" cy="1066" r="112" fill="#cc1a3a"/><circle cx="3119" cy="1066" r="100" fill="#d44a55"/><circle cx="3119" cy="1066" r="92" fill="#bcb024"/><circle cx="3119" cy="1078" r="28" fill="#2ed0b0"/>
<text class="t" x="3132" y="1066" font-size="100" textLength="718" lengthAdjust="spacingAndGlyphs">blue economy</text></g>
<g id="node-b-marine-environment">
<circle class="yr" cx="2430" cy="1114" r="37"/><circle class="wh" cx="2430" cy="1114" r="32"/><circle class="ol" cx="2430" cy="1114" r="29"/><circle cx="2434" cy="1118" r="18" fill="#c2bb3c"/>
<text class="t" x="2434" y="1115" font-size="40" textLength="425" lengthAdjust="spacingAndGlyphs">marine environment</text></g>
<g id="node-b-coastal-tourism"><use href="#by" x="3604" y="1180"/>
<text class="t" x="3608" y="1181" font-size="38" textLength="317" lengthAdjust="spacingAndGlyphs">coastal tourism</text></g>
<g id="node-b-blue-growth">
<circle class="yr" cx="2421" cy="1294" r="37"/><circle class="wh" cx="2421" cy="1294" r="32"/><circle cx="2421" cy="1294" r="29" fill="#c8862c"/><circle class="ol" cx="2425" cy="1292" r="15"/>
<text class="t" x="2428" y="1296" font-size="63" textLength="389" lengthAdjust="spacingAndGlyphs">blue growth</text></g>
<g id="node-b-tourism">
<circle class="yr" cx="2812" cy="1378" r="37"/><circle class="wh" cx="2812" cy="1378" r="32"/><circle class="cr" cx="2812" cy="1378" r="30"/><circle cx="2818" cy="1372" r="17" fill="#d05050"/>
<text class="t" x="2817" y="1382" font-size="50" textLength="188" lengthAdjust="spacingAndGlyphs">tourism</text></g>
<g id="node-b-coastal-zone"><use href="#by" x="3287" y="1417"/>
<text class="t" x="3291" y="1418" font-size="41" textLength="257" lengthAdjust="spacingAndGlyphs">coastal zone</text></g>
<g id="node-b-economic-activity"><use href="#by" x="2682" y="1543"/>
<text class="t" x="2685" y="1538" font-size="39" textLength="368" lengthAdjust="spacingAndGlyphs">economic activity</text></g>

<text class="cap" x="826" y="1728" text-anchor="middle">(a)</text>
<text class="cap" x="3070" y="1728" text-anchor="middle">(b)</text>
</svg>
